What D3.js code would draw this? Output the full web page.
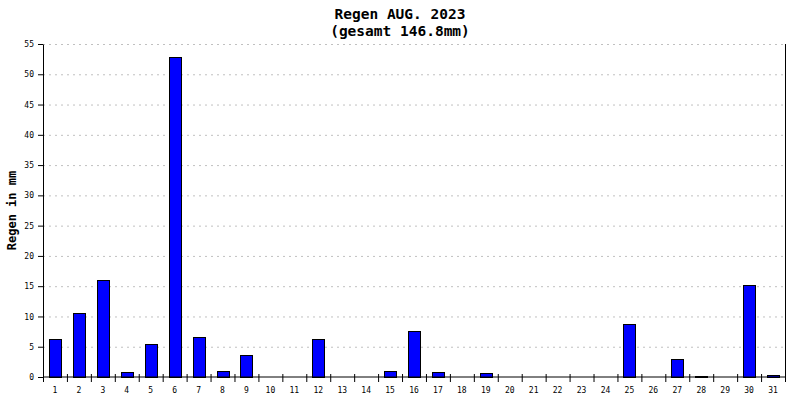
<!DOCTYPE html>
<html>
<head>
<meta charset="utf-8">
<script src="https://cdn.jsdelivr.net/npm/d3@7"></script>
<style>
  body { margin: 0; background: #fff; }
  text { font-family: "DejaVu Sans Mono", monospace; }
</style>
</head>
<body>
<svg></svg>
<script>
// Tage im August und Regen pro Tag (mm)
var days = d3.range(1, 32).map(String);
var rain = [6.3, 10.6, 16.0, 0.8, 5.4, 52.8, 6.6, 1.0, 3.6, 0, 0, 6.3, 0, 0, 1.0, 7.6,
            0.8, 0, 0.6, 0, 0, 0, 0, 0, 8.8, 0, 3.0, 0.1, 0, 15.2, 0.3];
var yTicks = [0, 5, 10, 15, 20, 25, 30, 35, 40, 45, 50, 55];
var titleLines = ['Regen AUG. 2023', '(gesamt 146.8mm)'];
var yLabel = 'Regen in mm';

document.addEventListener("DOMContentLoaded", function () {
    drawChart();
});

function drawChart() {
    var svgWidth = 800, svgHeight = 400;
    var margin = { top: 44, right: 15, bottom: 23, left: 43 };
    var width = svgWidth - margin.left - margin.right;
    var height = svgHeight - margin.top - margin.bottom;

    var svg = d3.select('svg')
        .attr('width', svgWidth)
        .attr('height', svgHeight);

    var g = svg.append('g')
        .attr('transform', 'translate(' + margin.left + ',' + margin.top + ')');

    var x = d3.scaleBand()
        .domain(days)
        .range([0, width])
        .paddingInner(0.5)
        .paddingOuter(0.25);

    // Grenzen zwischen den Tagen fuer die Striche
    var xEdge = d3.scaleLinear()
        .domain([0, days.length])
        .range([0, width]);

    var y = d3.scaleLinear()
        .domain([0, 55])
        .range([height, 0]);

    // gestrichelte Gitterlinien
    g.append('g')
        .selectAll('line')
        .data(yTicks.filter(function (d) { return d > 0; }))
        .enter().append('line')
        .attr('x1', 0)
        .attr('x2', width)
        .attr('y1', function (d) { return y(d) + 0.5; })
        .attr('y2', function (d) { return y(d) + 0.5; })
        .attr('stroke', '#c0c0c0')
        .attr('stroke-width', 1)
        .attr('stroke-dasharray', '2,4');

    g.selectAll('.bar')
        .data(rain)
        .enter().append('rect')
        .attr('class', 'bar')
        .attr('x', function (d, i) { return Math.round(x(days[i])) + 0.5; })
        .attr('y', function (d) { return Math.round(y(d)) + 0.5; })
        .attr('width', Math.round(x.bandwidth()))
        .attr('height', function (d) { return Math.round(height - y(d)); })
        .attr('fill', '#0000ff')
        .attr('stroke', '#000')
        .attr('stroke-width', 1)
        .style('display', function (d) { return d > 0 ? null : 'none'; });

    // x Achse: Striche an den Grenzen, Beschriftung mittig
    var xAxisG = g.append('g')
        .attr('transform', 'translate(0,' + height + ')');

    xAxisG.append('g')
        .call(d3.axisBottom(xEdge).tickValues(d3.range(0, days.length + 1)).tickSize(5).tickFormat(''))
        .call(function (a) { a.select('.domain').remove(); });

    xAxisG.append('g')
        .call(d3.axisBottom(xEdge).tickValues(d3.range(0, days.length + 1)).tickSize(-3).tickFormat(''))
        .call(function (a) { a.select('.domain').remove(); });

    xAxisG.append('g')
        .call(d3.axisBottom(x).tickSize(0).tickPadding(10))
        .call(function (a) { a.select('.domain').remove(); })
        .selectAll('text')
        .attr('font-size', 8)
        .attr('font-family', '"DejaVu Sans Mono", monospace');

    xAxisG.append('line')
        .attr('x1', 0).attr('x2', width)
        .attr('stroke', '#000');

    // y Achse
    g.append('g')
        .call(d3.axisLeft(y).tickValues(yTicks).tickSize(5).tickPadding(4).tickSizeOuter(0))
        .call(function (a) {
            a.selectAll('text')
                .attr('font-size', 8)
                .attr('font-family', '"DejaVu Sans Mono", monospace');
        });

    // rechte Begrenzung
    g.append('line')
        .attr('x1', width + 0.5).attr('x2', width + 0.5)
        .attr('y1', 0).attr('y2', height)
        .attr('stroke', '#000');

    svg.append('text')
        .attr('transform', 'translate(16,' + (margin.top + height / 2) + ') rotate(-90)')
        .attr('text-anchor', 'middle')
        .attr('font-size', 12)
        .attr('font-weight', 'bold')
        .text(yLabel);

    svg.selectAll('.title')
        .data(titleLines)
        .enter().append('text')
        .attr('class', 'title')
        .attr('x', svgWidth / 2)
        .attr('y', function (d, i) { return 19 + i * 17; })
        .attr('text-anchor', 'middle')
        .attr('font-size', 14.5)
        .attr('font-weight', 'bold')
        .text(function (d) { return d; });
}
</script>
</body>
</html>
